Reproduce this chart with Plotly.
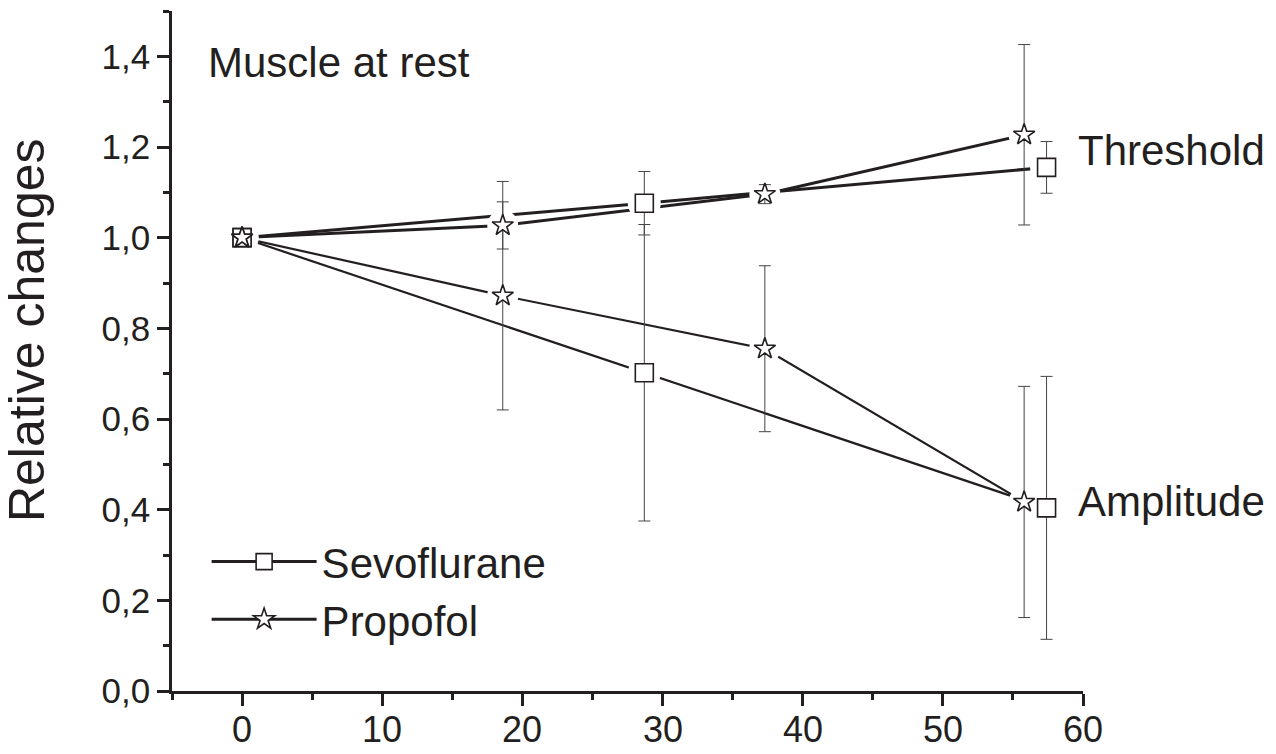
import plotly.graph_objects as go

# Time points (min) and relative changes for each anaesthetic
sevo_time = [0, 28.7, 57.4]
sevo_threshold = [1.0, 1.076, 1.155]
sevo_threshold_err = [None, 0.070, 0.057]
sevo_amplitude = [1.0, 0.702, 0.404]
sevo_amplitude_err = [None, 0.327, 0.290]

prop_time = [0, 18.6, 37.3, 55.8]
prop_threshold = [1.0, 1.027, 1.096, 1.227]
prop_threshold_err = [None, 0.052, 0.021, 0.199]
prop_amplitude = [1.0, 0.872, 0.755, 0.417]
prop_amplitude_err = [None, 0.252, 0.183, 0.255]

x_ticks = [0, 10, 20, 30, 40, 50, 60]
y_ticks = [0.0, 0.2, 0.4, 0.6, 0.8, 1.0, 1.2, 1.4]

INK = "#231f20"
ERR = "#444444"
FONT = "Liberation Sans, Arial, Helvetica, sans-serif"

# (name, x, [(y, err, line width, in legend)], symbol, size)
groups = [
    ("Sevoflurane", sevo_time,
     [(sevo_amplitude, sevo_amplitude_err, 2.2, False),
      (sevo_threshold, sevo_threshold_err, 3, True)], "square", 18),
    ("Propofol", prop_time,
     [(prop_amplitude, prop_amplitude_err, 2.2, False),
      (prop_threshold, prop_threshold_err, 3, True)], "star", 16),
]


def symbol_style(symbol, size):
    return dict(symbol=symbol, size=size, color="white",
                line=dict(color=INK, width=1.6))


fig = go.Figure()

# 1) connecting lines
for name, x, curves, symbol, size in groups:
    for y, err, width, legend in curves:
        fig.add_trace(go.Scatter(
            x=x, y=y, name=name, legendgroup=name, showlegend=legend,
            mode="lines+markers", line=dict(color=INK, width=width),
            marker=symbol_style(symbol, size), hoverinfo="skip"))

# 2) white halos that open a small gap in the lines around each symbol
for name, x, curves, symbol, size in groups:
    for y, err, width, legend in curves:
        fig.add_trace(go.Scatter(
            x=x, y=y, mode="markers", showlegend=False, hoverinfo="skip",
            marker=dict(symbol="circle", size=size + 15, color="white",
                        line=dict(width=0))))

# 3) symbols with their error bars
for name, x, curves, symbol, size in groups:
    for y, err, width, legend in curves:
        fig.add_trace(go.Scatter(
            x=x, y=y, name=name, mode="markers", showlegend=False,
            marker=symbol_style(symbol, size),
            error_y=dict(type="data", array=err, visible=True,
                         color=ERR, thickness=1, width=6)))

fig.update_layout(
    width=1276, height=754,
    margin=dict(l=172, r=193, t=11, b=63, autoexpand=False),
    plot_bgcolor="white", paper_bgcolor="white",
    separators=",.",
    font=dict(family=FONT, color=INK, size=42),
    showlegend=True,
    legend=dict(x=0.038, y=0.24, xanchor="left", yanchor="top",
                bgcolor="rgba(0,0,0,0)", itemwidth=105,
                font=dict(size=42, color=INK), tracegroupgap=0),
    xaxis=dict(
        range=[-5, 60], tickvals=x_ticks, showticklabels=False,
        ticks="outside", ticklen=12,
        tickwidth=2.5, tickcolor=INK, showline=True, linewidth=2.5,
        linecolor=INK, showgrid=False, zeroline=False,
        minor=dict(dtick=5, tick0=0, ticks="outside", ticklen=6,
                   tickwidth=2.5, tickcolor=INK, showgrid=False),
    ),
    yaxis=dict(
        range=[0, 1.5], tickvals=y_ticks, tickformat=".1f", ticks="outside",
        ticklen=12, tickwidth=2.5, tickcolor=INK, showline=True,
        linewidth=2.5, linecolor=INK, showgrid=False, zeroline=False,
        tickfont=dict(size=35, color=INK),
        minor=dict(dtick=0.1, tick0=0, ticks="outside", ticklen=6,
                   tickwidth=2.5, tickcolor=INK, showgrid=False),
    ),
)

# x tick labels, set a little closer to the axis than the default
for v in x_ticks:
    fig.add_annotation(text=str(v), xref="x", yref="paper", x=v, y=0,
                       xanchor="center", yanchor="top", yshift=-16,
                       showarrow=False, font=dict(size=36, color=INK))

fig.add_annotation(text="Relative changes", xref="paper", yref="paper",
                   x=-0.159, y=0.531, textangle=-90, showarrow=False,
                   xanchor="center", yanchor="middle",
                   font=dict(size=50, color=INK))
fig.add_annotation(text="Muscle at rest", xref="x", yref="y",
                   x=-2.6, y=1.387, showarrow=False,
                   xanchor="left", yanchor="middle",
                   font=dict(size=42, color=INK))
fig.add_annotation(text="Threshold", xref="x", yref="y",
                   x=59.5, y=1.193, showarrow=False,
                   xanchor="left", yanchor="middle",
                   font=dict(size=42, color=INK))
fig.add_annotation(text="Amplitude", xref="x", yref="y",
                   x=59.5, y=0.419, showarrow=False,
                   xanchor="left", yanchor="middle",
                   font=dict(size=42, color=INK))

fig.write_html("out.html")
